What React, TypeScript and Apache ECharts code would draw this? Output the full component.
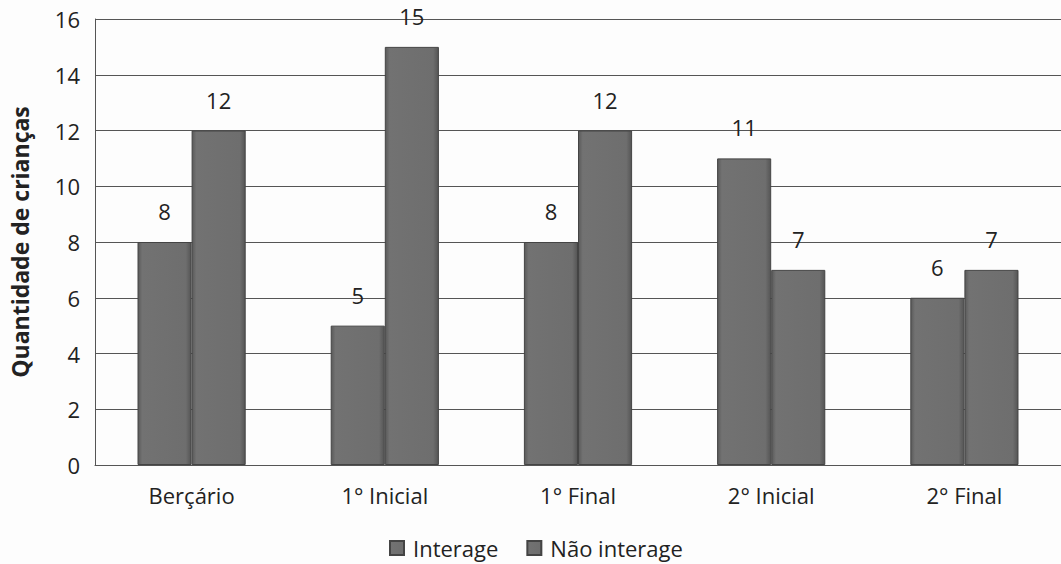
import React, { useEffect, useRef } from "react";
import * as echarts from "echarts";

const categories = ["Berçário", "1° Inicial", "1° Final", "2° Inicial", "2° Final"];
const interage = [8, 5, 8, 11, 6];
const naoInterage = [12, 15, 12, 7, 7];
const seriesNames = ["Interage", "Não interage"];

const FONT = "'Open Sans', Lato, 'DejaVu Sans', sans-serif";

const barFill = new echarts.graphic.LinearGradient(0, 0, 1, 0, [
  { offset: 0, color: "#5a5a5a" },
  { offset: 0.08, color: "#727272" },
  { offset: 0.9, color: "#6e6e6e" },
  { offset: 1, color: "#555555" },
]);

export default function App() {
  const ref = useRef<HTMLDivElement>(null);
  useEffect(() => {
    if (!ref.current) return;
    const chart = echarts.init(ref.current, null, { renderer: "svg" });
    const labelStyle = {
      show: true,
      position: "top",
      distance: 20,
      color: "#222",
      fontSize: 22,
      fontFamily: FONT,
    };
    chart.setOption({
      animation: false,
      backgroundColor: "#fdfdfd",
      textStyle: { fontFamily: FONT },
      grid: { left: 95, top: 19, width: 975, height: 446, containLabel: false },
      legend: {
        bottom: 0,
        left: 384,
        itemWidth: 14,
        itemHeight: 14,
        itemGap: 28,
        icon: "rect",
        textStyle: { fontSize: 22, color: "#222", fontFamily: FONT, padding: [0, 0, 0, 4] },
        data: seriesNames,
      },
      xAxis: {
        type: "category",
        data: categories,
        axisLine: { show: true, lineStyle: { color: "#555", width: 1 } },
        axisTick: { show: false },
        axisLabel: { fontSize: 22, color: "#222", margin: 19, fontFamily: FONT },
      },
      yAxis: {
        type: "value",
        min: 0,
        max: 16,
        interval: 2,
        name: "Quantidade de crianças",
        nameLocation: "middle",
        nameGap: 64,
        nameTextStyle: { fontSize: 23, fontWeight: "bold", color: "#222", fontFamily: FONT },
        axisLine: { show: true, lineStyle: { color: "#555", width: 1 } },
        axisTick: { show: false },
        axisLabel: { fontSize: 22, color: "#222", margin: 15, fontFamily: FONT },
        splitLine: { show: true, lineStyle: { color: "#555", width: 1 } },
      },
      series: [
        {
          name: seriesNames[0],
          type: "bar",
          data: interage,
          barGap: "0%",
          barCategoryGap: "44%",
          itemStyle: { color: barFill, borderColor: "#444", borderWidth: 1 },
          label: labelStyle,
        },
        {
          name: seriesNames[1],
          type: "bar",
          data: naoInterage,
          itemStyle: { color: barFill, borderColor: "#444", borderWidth: 1 },
          label: labelStyle,
        },
      ],
    });
    return () => chart.dispose();
  }, []);
  return (
    <div
      ref={ref}
      style={{ position: "absolute", left: 0, top: 0, width: 1061, height: 564 }}
    />
  );
}
